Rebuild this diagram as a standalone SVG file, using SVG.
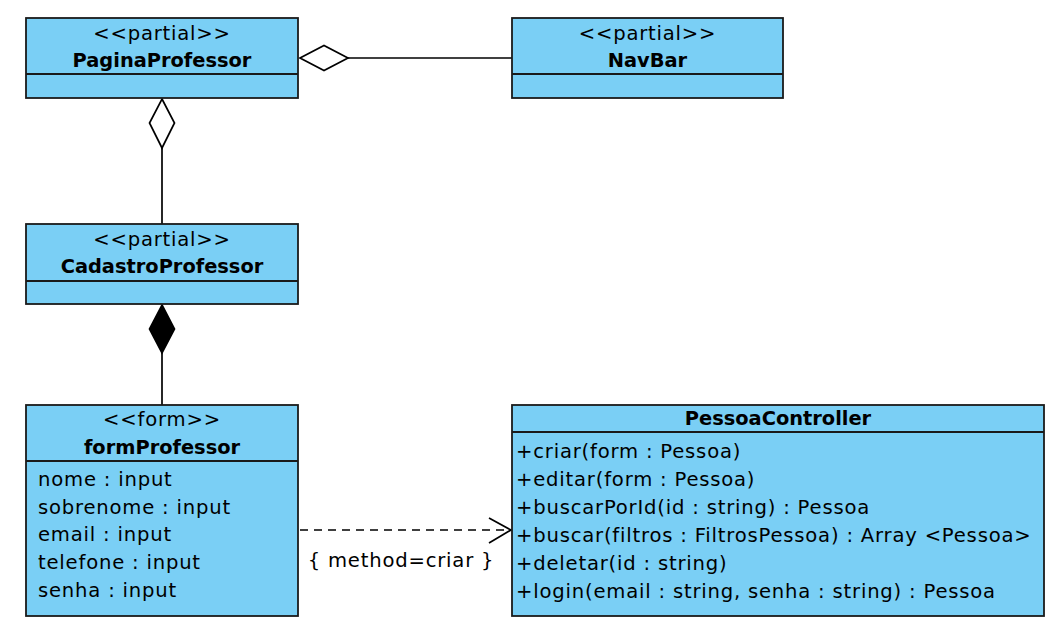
<svg xmlns="http://www.w3.org/2000/svg" width="1064" height="632" viewBox="0 0 1064 632">
<style>
.box{fill:#7acff5;stroke:#1a1a1a;stroke-width:1.8}
.sep{stroke:#1a1a1a;stroke-width:1.8}
.t{font-family:"DejaVu Sans",Verdana,sans-serif;font-size:19.6px;letter-spacing:0.8px;fill:#000}
.c{text-anchor:middle}
.b{font-family:"DejaVu Sans",Verdana,sans-serif;font-size:19.4px;font-weight:bold;fill:#000;text-anchor:middle}
.ln{stroke:#000;stroke-width:1.7;fill:none}
</style>
<rect width="1064" height="632" fill="#fff"/>
<g id="connectors">
  <line class="ln" x1="348" y1="58" x2="512" y2="58"/>
  <polygon points="300,58 324,45.5 348,58 324,70.5" fill="#fff" stroke="#000" stroke-width="1.7"/>
  <line class="ln" x1="162" y1="148" x2="162" y2="224"/>
  <polygon points="162,99 174.5,123 162,148 149.5,123" fill="#fff" stroke="#000" stroke-width="1.7"/>
  <line class="ln" x1="162" y1="353" x2="162" y2="405"/>
  <polygon points="162,305 174.5,329 162,353 149.5,329" fill="#000" stroke="#000" stroke-width="1.7"/>
  <line class="ln" x1="300" y1="530" x2="510" y2="530" stroke-dasharray="8,6"/>
  <polyline class="ln" points="489,518 511,530 489,543"/>
  <text class="t c" x="401" y="567">{ method=criar }</text>
</g>
<g id="PaginaProfessor">
  <rect class="box" x="26" y="18" width="272" height="80"/>
  <line class="sep" x1="26" y1="74" x2="298" y2="74"/>
  <text class="t c" x="162" y="40">&lt;&lt;partial&gt;&gt;</text>
  <text class="b" x="162" y="67">PaginaProfessor</text>
</g>
<g id="NavBar">
  <rect class="box" x="512" y="18" width="271" height="80"/>
  <line class="sep" x1="512" y1="74" x2="783" y2="74"/>
  <text class="t c" x="647.5" y="40">&lt;&lt;partial&gt;&gt;</text>
  <text class="b" x="647.5" y="67">NavBar</text>
</g>
<g id="CadastroProfessor">
  <rect class="box" x="26" y="224" width="272" height="80"/>
  <line class="sep" x1="26" y1="281" x2="298" y2="281"/>
  <text class="t c" x="162" y="246">&lt;&lt;partial&gt;&gt;</text>
  <text class="b" x="162" y="273">CadastroProfessor</text>
</g>
<g id="formProfessor">
  <rect class="box" x="26" y="405" width="272" height="211"/>
  <line class="sep" x1="26" y1="461" x2="298" y2="461"/>
  <text class="t c" x="162" y="426">&lt;&lt;form&gt;&gt;</text>
  <text class="b" x="162" y="454">formProfessor</text>
  <text class="t" x="38" y="486">nome : input</text>
  <text class="t" x="38" y="514">sobrenome : input</text>
  <text class="t" x="38" y="541">email : input</text>
  <text class="t" x="38" y="569">telefone : input</text>
  <text class="t" x="38" y="597">senha : input</text>
</g>
<g id="PessoaController">
  <rect class="box" x="512" y="405" width="532" height="211"/>
  <line class="sep" x1="512" y1="432" x2="1044" y2="432"/>
  <text class="b" x="778" y="425">PessoaController</text>
  <text class="t" x="516" y="458">+criar(form : Pessoa)</text>
  <text class="t" x="516" y="486">+editar(form : Pessoa)</text>
  <text class="t" x="516" y="514">+buscarPorId(id : string) : Pessoa</text>
  <text class="t" x="516" y="542">+buscar(filtros : FiltrosPessoa) : Array &lt;Pessoa&gt;</text>
  <text class="t" x="516" y="570">+deletar(id : string)</text>
  <text class="t" x="516" y="598">+login(email : string, senha : string) : Pessoa</text>
</g>
</svg>
